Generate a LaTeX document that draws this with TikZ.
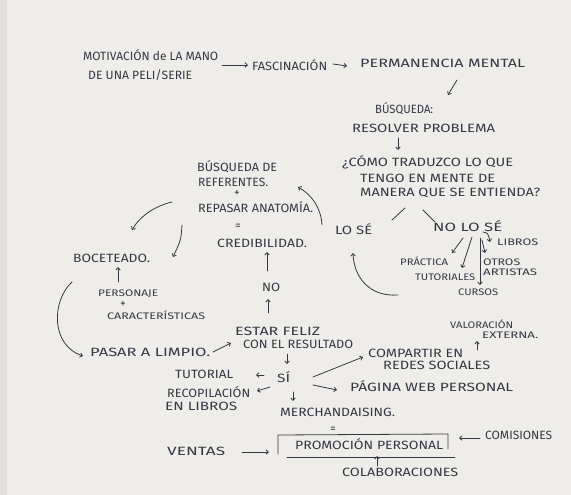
\documentclass[tikz,border=0pt]{standalone}
\usepackage{fontspec}
\usepackage{graphicx}
\usetikzlibrary{arrows.meta}
\newfontfamily\hwfont{Fira Sans}
\definecolor{ink}{RGB}{55,55,68}
\definecolor{paper}{RGB}{239,237,234}
\definecolor{edgestrip}{RGB}{226,224,221}
\newlength\hwl
\newcommand\T[2]{\settowidth{\hwl}{#2}\pgfmathsetmacro\hwf{#1/\hwl}\scalebox{\hwf}[1]{#2}}
\begin{document}
\begin{tikzpicture}[x=1pt,y=-1pt,
 hw/.style={font=\hwfont\fontsize{12}{12}\selectfont, text=ink, inner sep=0pt, anchor=west},
 hws/.style={hw, font=\hwfont\fontsize{9.5}{10}\selectfont},
 hwc/.style={hw, font=\hwfont\fontsize{11.5}{11.5}\selectfont, anchor=center},
 conn/.style={draw=ink, line width=0.8pt, line cap=round, -{Straight Barb[length=2.5pt,width=4.5pt]}},
 ln/.style={draw=ink, line width=0.8pt, line cap=round}]
\useasboundingbox (0,0) rectangle (571,495);
\fill[paper] (0,0) rectangle (571,495);
\fill[edgestrip] (0,0) rectangle (7,495);

% texts
\node[hw] (mot1) at (83,55) {\T{135}{MOTIVACIÓN de LA MANO}};
\node[hw] (mot2) at (88,75) {\T{104}{DE UNA PELI/SERIE}};
\node[hw] (fas) at (252,65) {\T{75}{FASCINACIÓN}};
\node[hw] (perm) at (360,63) {\T{165}{PERMANENCIA MENTAL}};
\node[hw] (busq) at (375,109) {\T{58}{BÚSQUEDA:}};
\node[hw] (resol) at (352,128) {\T{143}{RESOLVER PROBLEMA}};
\node[hw] (como1) at (342,162) {\T{171}{¿CÓMO TRADUZCO LO QUE}};
\node[hw] (como2) at (360,178) {\T{135}{TENGO EN MENTE DE}};
\node[hw] (como3) at (360,193) {\T{180}{MANERA QUE SE ENTIENDA?}};
\node[hw] (lose) at (335,229) {\T{37}{LO SÉ}};
\node[hw] (nolose) at (433,226) {\T{69}{NO LO SÉ}};
\node[hws] (libros) at (497,242) {\T{41}{LIBROS}};
\node[hws] (practica) at (400,261) {\T{48}{PRÁCTICA}};
\node[hws] (tutoriales) at (415,277) {\T{60}{TUTORIALES}};
\node[hws] (otros) at (483,262) {\T{37}{OTROS}};
\node[hws] (artistas) at (483,272) {\T{54}{ARTISTAS}};
\node[hws] (cursos) at (458,292) {\T{40}{CURSOS}};
\node[hw] (bref1) at (197,167) {\T{80}{BÚSQUEDA DE}};
\node[hw] (bref2) at (198,182) {\T{70}{REFERENTES.}};
\node[hwc] (plus1) at (237,193.5) {+};
\node[hw] (bref3) at (198,207) {\T{115}{REPASAR ANATOMÍA.}};
\node[hwc] (eq1) at (238,227) {=};
\node[hw] (cred) at (217,243) {\T{90}{CREDIBILIDAD.}};
\node[hw] (no) at (262,287) {\T{18}{NO}};
\node[hw] (feliz1) at (235,331) {\T{85}{ESTAR FELIZ}};
\node[hw] (feliz2) at (243,344) {\T{110}{CON EL RESULTADO}};
\node[hw] (boc) at (73,258) {\T{77}{BOCETEADO.}};
\node[hws] (pers) at (98,294) {\T{60}{PERSONAJE}};
\node[hwc] (plus2) at (123,304.5) {+};
\node[hws] (car) at (107,315) {\T{98}{CARACTERÍSTICAS}};
\node[hw] (pasar) at (90,352) {\T{120}{PASAR A LIMPIO.}};
\node[hw] (si) at (277,377) {\T{13}{SÍ}};
\node[hw] (tut) at (175,374) {\T{58}{TUTORIAL}};
\node[hw] (recop1) at (167,392) {\T{83}{RECOPILACIÓN}};
\node[hw] (recop2) at (165,406) {\T{72}{EN LIBROS}};
\node[hw] (merch) at (280,412) {\T{115}{MERCHANDAISING.}};
\node[hw] (comp1) at (368,353) {\T{95}{COMPARTIR EN}};
\node[hw] (comp2) at (383,365) {\T{107}{REDES SOCIALES}};
\node[hw] (pag) at (350,386) {\T{163}{PÁGINA WEB PERSONAL}};
\node[hws] (val1) at (450,324) {\T{63}{VALORACIÓN}};
\node[hws] (val2) at (482,335) {\T{56}{EXTERNA.}};
\node[hwc] (eq2) at (333,430) {=};
\node[hw] (promo) at (295,444) {\T{148}{PROMOCIÓN PERSONAL}};
\node[hw] (ventas) at (167,451) {\T{58}{VENTAS}};
\node[hw] (comis) at (485,435) {\T{67}{COMISIONES}};
\node[hw] (colab) at (342,472) {\T{116}{COLABORACIONES}};

% box around promocion personal
\coordinate (bxa) at (278,435);
\coordinate (bxb) at (448,434);
\coordinate (bxc) at (448,449);
\coordinate (bxd) at (278,454);
\coordinate (bxe) at (287,457);
\coordinate (bxf) at (455,457);
\draw[ln] (bxd) -- (bxa) -- (bxb) -- (bxc);
\draw[ln] (bxe) -- (bxf);

% connector end points
\coordinate (a1s) at (222,65);  \coordinate (a1e) at (248,65);
\coordinate (a2s) at (333,64);  \coordinate (a2e) at (347,66);
\coordinate (a3s) at (457,80);  \coordinate (a3e) at (448,95);
\coordinate (a4s) at (398,138); \coordinate (a4e) at (398,150);
\coordinate (l1s) at (405,208); \coordinate (l1e) at (392,220);
\coordinate (l2s) at (423,210); \coordinate (l2e) at (435,222);
\coordinate (a5s) at (463,238); \coordinate (a5e) at (452,253);
\coordinate (a6s) at (472,237); \coordinate (a6e) at (462,268);
\coordinate (a7s) at (480,238); \coordinate (a7e) at (480,285);
\coordinate (a8s) at (482,240); \coordinate (a8e) at (485,253);
\coordinate (a9s) at (483,232); \coordinate (a9e) at (490,242);
\coordinate (a10s) at (398,295); \coordinate (a10e) at (353,253);
\coordinate (a11s) at (322,225); \coordinate (a11e) at (298,187);
\coordinate (a12s) at (172,202); \coordinate (a12e) at (132,230);
\coordinate (a13s) at (182,225); \coordinate (a13e) at (173,257);
\coordinate (a14s) at (267,271); \coordinate (a14e) at (267,252);
\coordinate (a15s) at (268,313); \coordinate (a15e) at (268,299);
\coordinate (a16s) at (118,282); \coordinate (a16e) at (118,267);
\coordinate (a17s) at (72,282);  \coordinate (a17e) at (83,356);
\coordinate (a18s) at (213,352); \coordinate (a18e) at (231,343);
\coordinate (a19s) at (287,354); \coordinate (a19e) at (287,364);
\coordinate (a20s) at (264,375); \coordinate (a20e) at (256,375);
\coordinate (a21s) at (270,387); \coordinate (a21e) at (257,391);
\coordinate (a22s) at (293,392); \coordinate (a22e) at (293,401);
\coordinate (a23s) at (313,377); \coordinate (a23e) at (363,357);
\coordinate (a24s) at (313,385); \coordinate (a24e) at (337,390);
\coordinate (a25s) at (477,350); \coordinate (a25e) at (477,341);
\coordinate (a26s) at (242,452); \coordinate (a26e) at (269,452);
\coordinate (a27s) at (480,438); \coordinate (a27e) at (459,438);
\coordinate (a28s) at (377,466); \coordinate (a28e) at (377,456);

% connectors
\draw[conn] (a1s) -- (a1e);
\draw[conn] (a2s) -- (a2e);
\draw[conn] (a3s) -- (a3e);
\draw[conn] (a4s) -- (a4e);
\draw[ln] (l1s) -- (l1e);
\draw[ln] (l2s) -- (l2e);
\draw[conn] (a5s) -- (a5e);
\draw[conn] (a6s) -- (a6e);
\draw[conn] (a7s) -- (a7e);
\draw[conn] (a8s) -- (a8e);
\draw[conn] (a9s) .. controls (488,233) .. (a9e);
\draw[conn] (a10s) .. controls (370,297) and (354,278) .. (a10e);
\draw[conn] (a11s) .. controls (321,208) and (312,195) .. (a11e);
\draw[conn] (a12s) .. controls (155,206) and (140,216) .. (a12e);
\draw[conn] (a13s) .. controls (181,240) .. (a13e);
\draw[conn] (a14s) -- (a14e);
\draw[conn] (a15s) -- (a15e);
\draw[conn] (a16s) -- (a16e);
\draw[conn] (a17s) .. controls (52,300) and (50,345) .. (a17e);
\draw[conn] (a18s) -- (a18e);
\draw[conn] (a19s) -- (a19e);
\draw[conn] (a20s) -- (a20e);
\draw[conn] (a21s) -- (a21e);
\draw[conn] (a22s) -- (a22e);
\draw[conn] (a23s) -- (a23e);
\draw[conn] (a24s) -- (a24e);
\draw[conn] (a25s) -- (a25e);
\draw[conn] (a26s) -- (a26e);
\draw[conn] (a27s) -- (a27e);
\draw[conn] (a28s) -- (a28e);
\end{tikzpicture}
\end{document}
